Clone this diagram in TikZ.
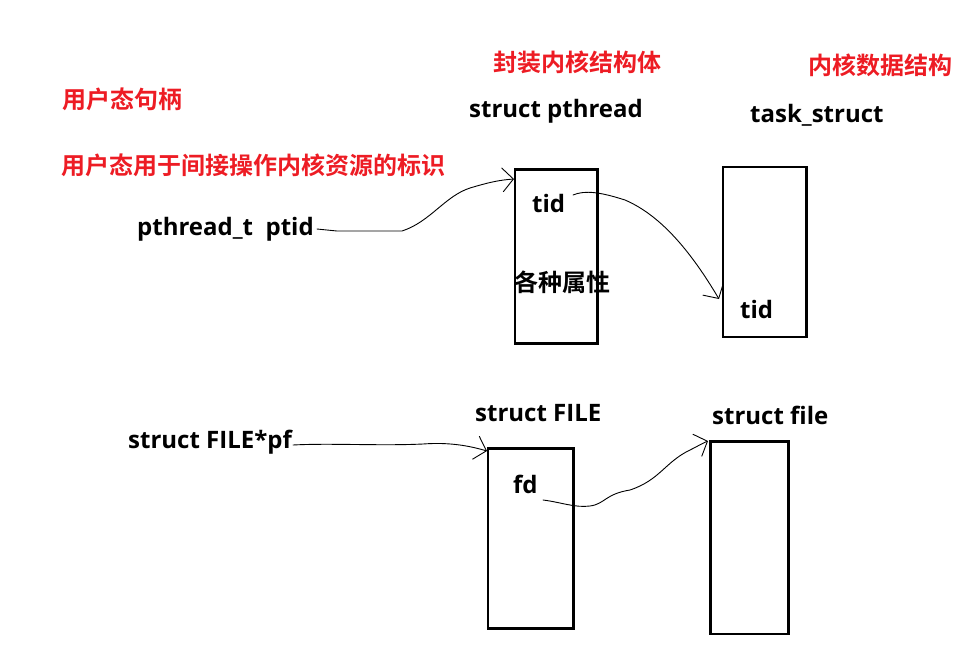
\documentclass[tikz,border=0pt]{standalone}
\usepackage{fontspec}
\setmainfont{Open Sans}
\newfontfamily\cjk{Noto Sans CJK SC Bold}
\usetikzlibrary{arrows.meta}
\definecolor{paintred}{RGB}{237,28,36}
\begin{document}
\begin{tikzpicture}[x=1pt,y=-1pt,
  lbl/.style={inner sep=0pt, anchor=base west, font=\fontsize{24}{28}\selectfont\bfseries},
  zh/.style={inner sep=0pt, anchor=west, text=paintred, font=\fontsize{24}{28}\selectfont\cjk},
  zhblack/.style={zh, text=black},
  box/.style={draw, line width=2.8pt, anchor=north west, inner sep=0pt},
  link/.style={line width=0.9pt, line cap=round, line join=round,
    -{Straight Barb[length=11pt,width=24pt,line width=0.9pt]}}
]
\useasboundingbox (0,0) rectangle (972,649);

% headings
\node[zh] (hdlTitle) at (62,99) {用户态句柄};
\node[zh] (hdlNote) at (61,165) {用户态用于间接操作内核资源的标识};
\node[zh] (wrapTitle) at (493,62) {封装内核结构体};
\node[zh] (kernTitle) at (808,65) {内核数据结构};

% thread handle chain
\node[lbl] (ptid) at (137,235) {pthread\_t\ \ ptid};
\node[lbl] (pthName) at (469,117) {struct pthread};
\node[lbl] (taskName) at (750,122) {task\_struct};
\node[box, minimum width=82.5pt, minimum height=174pt] (pthBox) at (513.5,168) {};
\node[box, minimum width=83.5pt, minimum height=170pt] (taskBox) at (721.5,165.5) {};
\node[lbl] (tidA) at (532,212) {tid};
\node[zhblack] (attrs) at (514,282) {各种属性};
\node[lbl] (tidB) at (740,318) {tid};

% file handle chain
\node[lbl] (pf) at (128,448) {struct FILE*pf};
\node[lbl] (fileName) at (475,421.5) {struct FILE};
\node[lbl] (kfileName) at (712,424.5) {struct file};
\node[box, minimum width=85.5pt, minimum height=180pt] (fileBox) at (486.5,447) {};
\node[box, minimum width=78pt, minimum height=192.5pt] (kfileBox) at (709.3,440) {};
\node[lbl] (fd) at (513,493) {fd};

% connector end points
\coordinate (ptidEnd) at (317,229);
\coordinate (pthTip) at (514,179);
\coordinate (tidStart) at (573,195);
\coordinate (taskTip) at (719,299);
\coordinate (pfEnd) at (293,445);
\coordinate (fileTip) at (487,451);
\coordinate (fdStart) at (543,500);
\coordinate (kfileTip) at (708,441);

% connectors
\draw[link] (ptidEnd) -- (337,231) -- (402,231)
  .. controls (430,222) and (445,196) .. (470,188)
  .. controls (490,182) and (500,180) .. (pthTip);
\draw[link] (tidStart) .. controls (585,190) and (600,192) .. (625,200)
  .. controls (660,215) and (690,250) .. (taskTip);
\draw[link] (pfEnd) .. controls (330,443) and (380,446) .. (423,444)
  .. controls (450,442) and (470,446) .. (fileTip);
\draw[link] (fdStart) .. controls (560,502) and (575,508) .. (590,506)
  .. controls (605,504) and (605,494) .. (630,490)
  .. controls (660,480) and (665,462) .. (690,450)
  .. controls (698,446) and (703,443) .. (kfileTip);
\end{tikzpicture}
\end{document}
